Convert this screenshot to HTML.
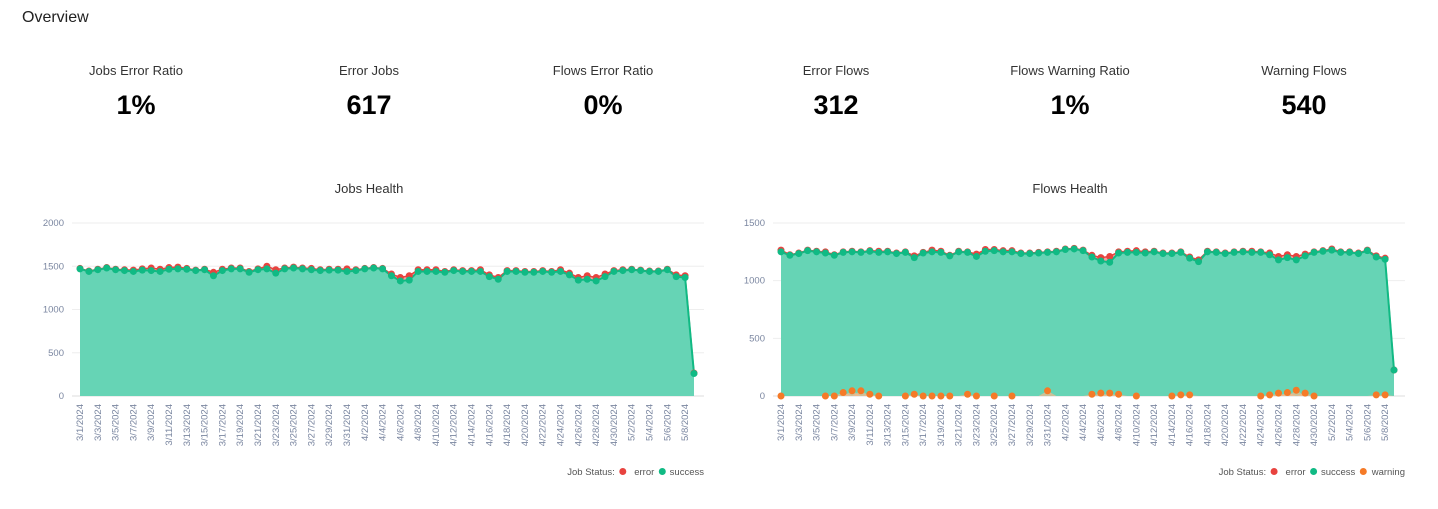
<!DOCTYPE html>
<html><head><meta charset="utf-8">
<style>
body{margin:0;width:1438px;height:509px;background:#fff;font-family:"Liberation Sans",sans-serif;overflow:hidden;position:relative}
.title{position:absolute;left:22px;top:9px;font-size:16px;color:#222}
.kpi{position:absolute;width:234px;text-align:center}
.kpi .l{position:absolute;top:63px;width:100%;font-size:13px;color:#333}
.kpi .v{position:absolute;top:90px;width:100%;font-size:27px;font-weight:bold;color:#000}
svg{position:absolute;left:0;top:0}
</style></head><body>
<div class="title">Overview</div>
<div class="kpi" style="left:19px"><div class="l">Jobs Error Ratio</div><div class="v">1%</div></div>
<div class="kpi" style="left:252px"><div class="l">Error Jobs</div><div class="v">617</div></div>
<div class="kpi" style="left:486px"><div class="l">Flows Error Ratio</div><div class="v">0%</div></div>
<div class="kpi" style="left:719px"><div class="l">Error Flows</div><div class="v">312</div></div>
<div class="kpi" style="left:953px"><div class="l">Flows Warning Ratio</div><div class="v">1%</div></div>
<div class="kpi" style="left:1187px"><div class="l">Warning Flows</div><div class="v">540</div></div>
<svg id="svg" width="1438" height="509"></svg>
<script>
const dates=[];
for(let d=1;d<=31;d++)dates.push('3/'+d+'/2024');
for(let d=1;d<=30;d++)dates.push('4/'+d+'/2024');
for(let d=1;d<=9;d++)dates.push('5/'+d+'/2024');
const jobsSuccess=[1470,1440,1460,1480,1460,1450,1440,1455,1450,1440,1465,1470,1465,1450,1460,1390,1450,1470,1470,1430,1460,1470,1420,1470,1480,1470,1460,1450,1455,1455,1440,1450,1470,1480,1470,1390,1330,1340,1440,1440,1440,1430,1450,1440,1440,1440,1380,1350,1440,1440,1430,1430,1440,1430,1440,1400,1340,1350,1330,1380,1440,1450,1460,1450,1440,1440,1460,1380,1370,260];
const jobsError=[5,5,5,5,5,10,15,15,30,25,20,20,10,5,5,40,15,10,10,10,10,30,40,10,10,10,15,10,10,10,30,10,5,5,5,20,40,50,20,20,20,10,10,10,10,20,20,20,10,10,10,10,10,10,20,20,30,40,40,30,10,10,5,5,5,5,5,20,20,5];
const flowsSuccess=[1250,1220,1235,1260,1250,1240,1220,1245,1250,1245,1255,1245,1250,1235,1245,1200,1240,1250,1245,1215,1250,1245,1210,1255,1260,1250,1250,1235,1235,1240,1245,1250,1270,1275,1260,1205,1170,1160,1240,1245,1245,1240,1250,1235,1235,1245,1195,1165,1250,1245,1235,1245,1250,1245,1245,1225,1180,1200,1180,1215,1245,1255,1265,1245,1245,1235,1260,1205,1185,225];
const flowsError=[15,5,5,5,5,10,5,5,5,5,5,10,5,5,5,15,5,15,10,5,5,5,20,15,10,10,10,5,5,5,5,5,5,5,5,15,30,50,10,10,15,10,5,5,5,5,10,15,5,5,5,5,5,10,5,15,30,25,30,15,5,5,10,5,5,5,5,10,10,0];
const flowsWarning=[0,null,null,null,null,0,0,30,45,45,15,0,null,null,0,15,0,0,0,0,null,15,0,null,0,null,0,null,null,null,45,null,null,null,null,15,25,25,15,null,0,null,null,null,0,10,10,null,null,null,null,null,null,null,0,10,25,30,50,25,0,null,null,null,null,null,null,10,10,null];
const jobsTicks=[0,500,1000,1500,2000];
const flowsTicks=[0,500,1000,1500];

const svg=document.getElementById('svg');
const NS='http://www.w3.org/2000/svg';
function mk(tag,attrs,parent){const e=document.createElementNS(NS,tag);for(const k in attrs)e.setAttribute(k,attrs[k]);(parent||svg).appendChild(e);return e;}
const GREEN='#10ba84',FILL='#66d4b5',RED='#e8433f',ORANGE='#f57a27',LAB='#7a86a0';

function chart(cfg){
  const g=mk('g',{});
  
  
  const x=i=>cfg.x0+(cfg.x1-cfg.x0)*i/(dates.length-1);
  const y=v=>cfg.y0-(cfg.y0-cfg.yTop)*v/cfg.max;
  const t=mk('text',{x:cfg.cx,y:193,'text-anchor':'middle','font-size':13,fill:'#333'},g);t.textContent=cfg.title;
  
  cfg.ticks.forEach(v=>{
    mk('line',{x1:cfg.x0-8,x2:cfg.gx1,y1:y(v),y2:y(v),stroke:v==0?'#ddd':'#eee','stroke-width':1},g);
    const tt=mk('text',{x:cfg.x0-16,y:y(v)+3,'text-anchor':'end','font-size':9.5,fill:LAB},g);tt.textContent=v;
    
  });
  dates.forEach((d,i)=>{
    if(i%2)return;
    const tx=mk('text',{transform:`translate(${x(i)+3},404) rotate(-90)`,'text-anchor':'end','font-size':9.5,fill:LAB},g);tx.textContent=d;
    
  });
  const S=cfg.success,E=cfg.error;
  const top=S.map((v,i)=>v+E[i]);
  // error area
  let p='M'+x(0)+','+y(0);top.forEach((v,i)=>p+='L'+x(i)+','+y(v));p+='L'+x(S.length-1)+','+y(0)+'Z';
  const ea=mk('path',{d:p,fill:'#f08a86','fill-opacity':0.8},g);
  
  p='M'+x(0)+','+y(0);S.forEach((v,i)=>p+='L'+x(i)+','+y(v));p+='L'+x(S.length-1)+','+y(0)+'Z';
  const sa=mk('path',{d:p,fill:FILL},g);
  
  mk('polyline',{points:top.map((v,i)=>x(i)+','+y(v)).join(' '),fill:'none',stroke:RED,'stroke-width':1.5},g);
  mk('polyline',{points:S.map((v,i)=>x(i)+','+y(v)).join(' '),fill:'none',stroke:GREEN,'stroke-width':2},g);
  top.forEach((v,i)=>{const c=mk('circle',{cx:x(i),cy:y(v),r:3.5,fill:RED},g);});
  S.forEach((v,i)=>{const c=mk('circle',{cx:x(i),cy:y(v),r:3.5,fill:GREEN},g);});
  if(cfg.warning){
    cfg.warning.forEach((v,i)=>{if(v==null)return;
      if(v>0){const a=mk('path',{d:`M${x(i-1)},${y(0)}L${x(i)},${y(v)}L${x(i+1)},${y(0)}Z`,fill:'#f7b98c','fill-opacity':0.7},g);}
    });
    cfg.warning.forEach((v,i)=>{if(v==null)return;const c=mk('circle',{cx:x(i),cy:y(v),r:3.5,fill:ORANGE},g);});
  }
  // legend
  let lx=cfg.gx1;
  const items=cfg.warning?[['warning',ORANGE],['success',GREEN],['error',RED]]:[['success',GREEN],['error',RED]];
  items.forEach(([n,c])=>{
    const tx=mk('text',{x:lx,y:475,'text-anchor':'end','font-size':9.5,fill:'#555'},g);tx.textContent=n;
    const w=n.length*5.1;lx-=w+6;
    const dot=mk('circle',{cx:lx,cy:471.5,r:3.5,fill:c},g);
    
    lx-=8;
  });
  const lt=mk('text',{x:lx,y:475,'text-anchor':'end','font-size':9.5,fill:'#555'},g);lt.textContent='Job Status:';
}
chart({name:'jobs-health-chart',title:'Jobs Health',cx:369,x0:80,x1:694,gx1:704,y0:396,yTop:223,max:2000,ticks:jobsTicks,success:jobsSuccess,error:jobsError});
chart({name:'flows-health-chart',title:'Flows Health',cx:1070,x0:781,x1:1394,gx1:1405,y0:396,yTop:223,max:1500,ticks:flowsTicks,success:flowsSuccess,error:flowsError,warning:flowsWarning});
</script>
</body></html>
